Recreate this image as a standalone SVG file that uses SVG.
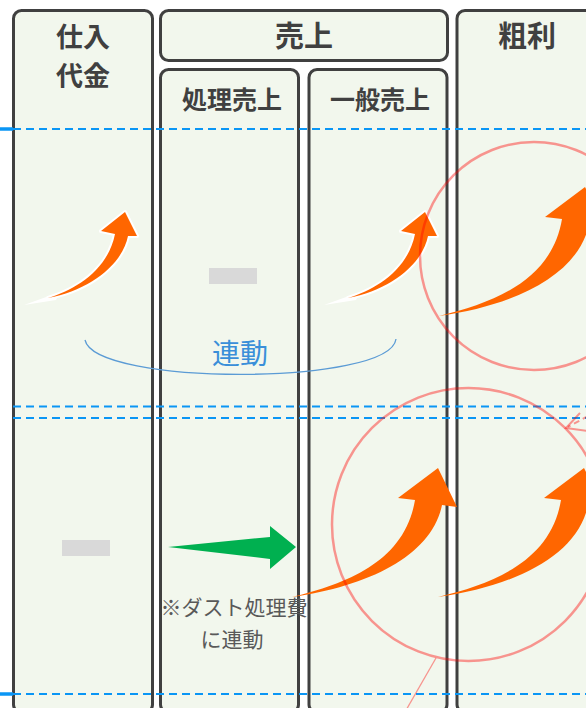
<svg xmlns="http://www.w3.org/2000/svg" width="586" height="708" viewBox="0 0 586 708">
<defs>
<style>
.panel{fill:#f2f7ed;stroke:#404040;stroke-width:3}
.title{font-family:"Noto Sans CJK JP","Noto Sans",sans-serif;font-weight:bold;fill:#404040;text-anchor:middle}
.dash{stroke:#0a96f5;stroke-width:2;stroke-dasharray:8 5;fill:none}
.solidblue{stroke:#0a96f5;stroke-width:3.5}
.gray{fill:#d9d9d9}
.orange{fill:#ff6600}
.ring{fill:none;stroke:#ff0000;stroke-opacity:0.4;stroke-width:2.5}
.note{font-family:"Noto Sans CJK JP","Noto Sans",sans-serif;fill:#595959;text-anchor:middle;font-size:21px}
</style>
<path id="bigArrow" d="M292,597 C350,583 405,560 415,500 L398,498 L438,468 L457,507 L442,505 C432,555 370,586 292,597 Z"/>
<g id="smallArrow">
<path d="M24,305 L60,292 L56,300 Z" fill="#ffffff"/>
<path d="M48,298 C75,290 108,270 115,234 L101,231 L125,212 L137,236 L128,236 C122,265 90,290 48,298 Z" fill="#ff6600" stroke="#ffffff" stroke-width="4" stroke-linejoin="round" paint-order="stroke"/>
</g>
</defs>

<g id="panel-shiire">
<rect class="panel" x="13.5" y="10.5" width="139" height="702" rx="8"/>
<text class="title" x="83" y="46.5" font-size="27">仕入</text>
<text class="title" x="83" y="86" font-size="27">代金</text>
</g>
<g id="panel-uriage">
<rect class="panel" x="160.5" y="10.5" width="287" height="50" rx="8"/>
<text class="title" x="304" y="47" font-size="29">売上</text>
</g>
<g id="panel-shori">
<rect class="panel" x="160.5" y="69.5" width="138" height="643" rx="8"/>
<text class="title" x="232" y="109" font-size="25">処理売上</text>
</g>
<g id="panel-ippan">
<rect class="panel" x="309" y="69.5" width="138" height="643" rx="8"/>
<text class="title" x="380" y="109" font-size="25">一般売上</text>
</g>
<g id="panel-arari">
<rect class="panel" x="457" y="10.5" width="160" height="702" rx="8"/>
<text class="title" x="527" y="47" font-size="29">粗利</text>
</g>

<g id="guides">
<line class="solidblue" x1="0" y1="129" x2="13" y2="129"/>
<line class="solidblue" x1="0" y1="694" x2="13" y2="694"/>
<line class="dash" x1="13" y1="129" x2="586" y2="129"/>
<line class="dash" x1="13" y1="406.5" x2="586" y2="406.5"/>
<line class="dash" x1="13" y1="418" x2="586" y2="418"/>
<line class="dash" x1="13" y1="694" x2="586" y2="694"/>
</g>

<g id="placeholders">
<rect class="gray" x="209" y="268" width="48" height="16"/>
<rect class="gray" x="62" y="540" width="48" height="16"/>
</g>

<g id="connectors">
<use href="#smallArrow"/>
<use href="#smallArrow" transform="translate(300,0)"/>
<use href="#bigArrow" class="orange"/>
<use href="#bigArrow" class="orange" transform="translate(146,0)"/>
<use href="#bigArrow" class="orange" transform="translate(147,-281)"/>
<path d="M168,547 L270,537 L270,526 L296,547 L270,569 L270,559 Z" fill="#00b050"/>
<path d="M85,340 C95,386 390,386 396,339" fill="none" stroke="#5b9bd5" stroke-width="1.3"/>
</g>

<g id="highlights">
<circle class="ring" cx="534" cy="256" r="114"/>
<circle class="ring" cx="468.5" cy="524.5" r="136.5"/>
<line x1="436" y1="658" x2="405" y2="712" stroke="#ff0000" stroke-opacity="0.4" stroke-width="1.3"/>
<line x1="588" y1="416" x2="568" y2="427" stroke="#ff0000" stroke-opacity="0.4" stroke-width="2" stroke-dasharray="6 4"/>
<polyline points="580,413 566,428 587,431" fill="none" stroke="#ff0000" stroke-opacity="0.4" stroke-width="2"/>
</g>

<g id="labels">
<text x="240" y="364" font-family="'Noto Sans CJK JP','Noto Sans',sans-serif" font-size="28" fill="#3a8fd9" text-anchor="middle">連動</text>
<text class="note" x="234" y="615">※ダスト処理費</text>
<text class="note" x="232" y="647">に連動</text>
</g>
</svg>
